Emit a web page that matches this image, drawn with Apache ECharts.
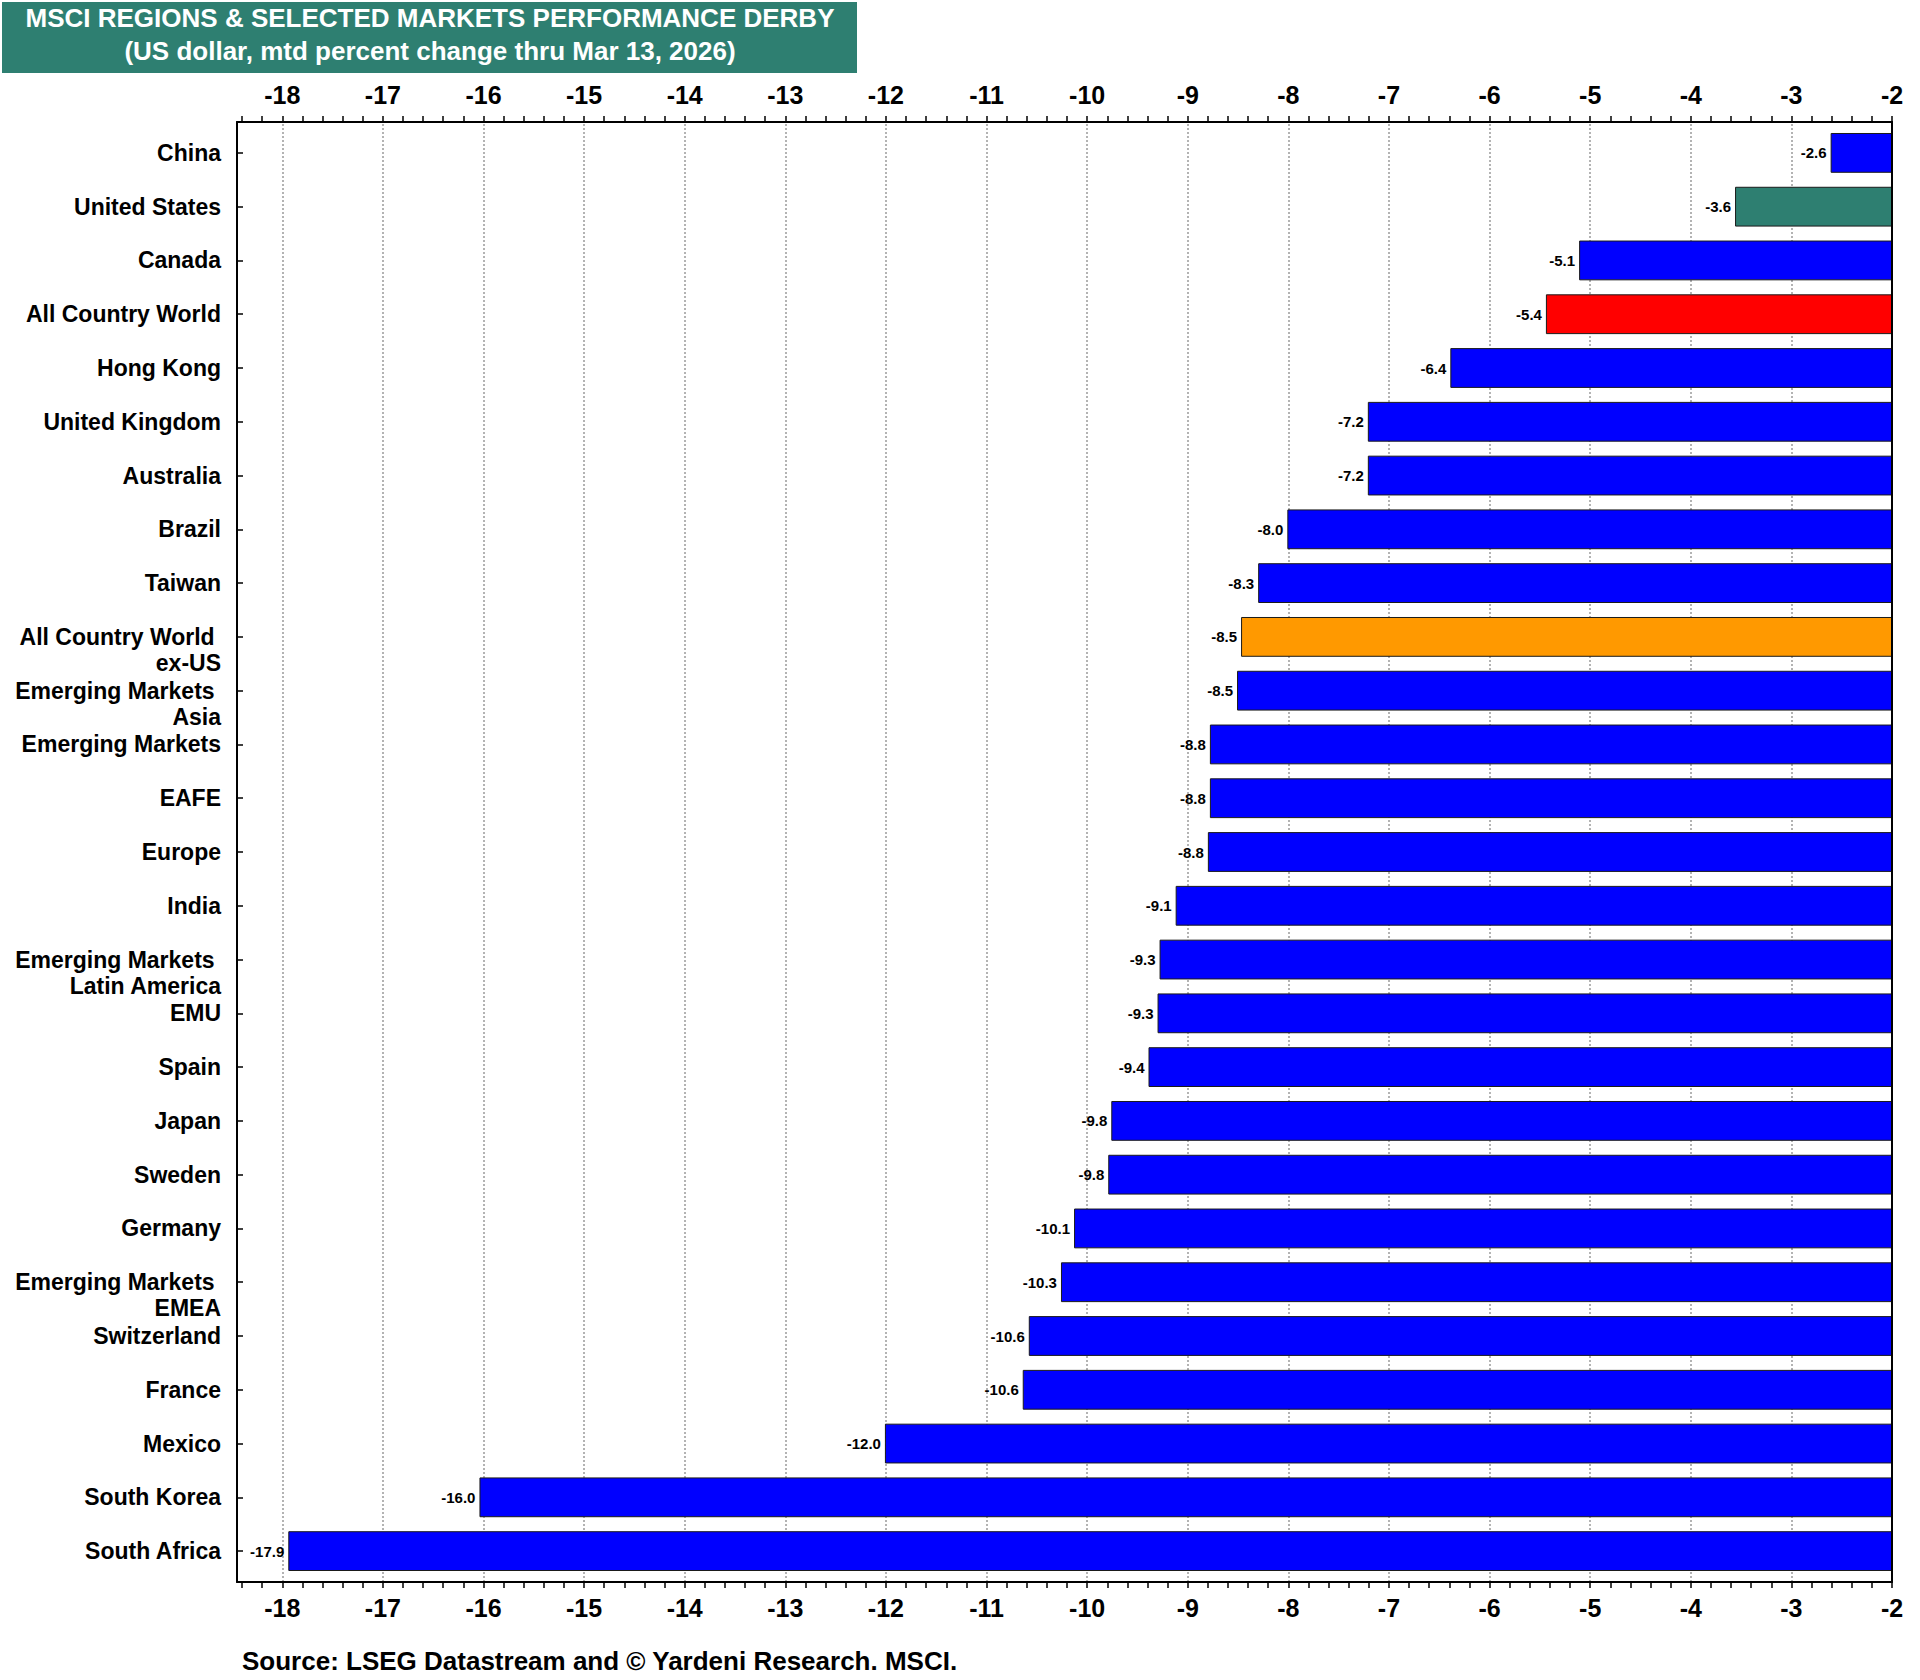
<!DOCTYPE html>
<html>
<head>
<meta charset="utf-8">
<script src="https://cdn.jsdelivr.net/npm/echarts@6/dist/echarts.min.js"></script>
<style>
  html, body { margin: 0; padding: 0; background: #ffffff; }
  #chart { width: 1920px; height: 1680px; }
</style>
</head>
<body>
<div id="chart"></div>
<script>
// ---- data ----
const categories = [
  'China', 'United States', 'Canada', 'All Country World', 'Hong Kong',
  'United Kingdom', 'Australia', 'Brazil', 'Taiwan', 'All Country World \nex-US',
  'Emerging Markets \nAsia', 'Emerging Markets', 'EAFE', 'Europe', 'India',
  'Emerging Markets \nLatin America', 'EMU', 'Spain', 'Japan', 'Sweden',
  'Germany', 'Emerging Markets \nEMEA', 'Switzerland', 'France', 'Mexico',
  'South Korea', 'South Africa'
];
const values = [
  -2.61, -3.56, -5.11, -5.44, -6.39,
  -7.21, -7.21, -8.01, -8.30, -8.47,
  -8.51, -8.78, -8.78, -8.80, -9.12,
  -9.28, -9.30, -9.39, -9.76, -9.79,
  -10.13, -10.26, -10.58, -10.64, -12.01,
  -16.04, -17.94
];
const tickLabels = [-18, -17, -16, -15, -14, -13, -12, -11, -10, -9, -8, -7, -6, -5, -4, -3, -2];
const gridLineValues = [-18, -17, -16, -15, -14, -13, -12, -11, -10, -9, -8, -7, -6, -5, -4, -3];
const minorTicks = [];
for (let i = 0; i <= 82; i++) minorTicks.push(Math.round((-18.4 + i * 0.2) * 10) / 10);

const titleLine1 = 'MSCI REGIONS & SELECTED MARKETS PERFORMANCE DERBY';
const titleLine2 = '(US dollar, mtd percent change thru Mar 13, 2026)';
const sourceText = 'Source: LSEG Datastream and \u00A9 Yardeni Research. MSCI.';

// ---- styles ----
const TEAL = '#2E7F71';
const specialColors = {
  'United States': TEAL,
  'All Country World': '#FF0000',
  'All Country World \nex-US': '#FF9900'
};
const BLUE = '#0000FF';
const FONT = '"Liberation Sans", Arial, Helvetica, sans-serif';
const X_MIN = -18.45, X_MAX = -2;

const chart = echarts.init(document.getElementById('chart'), null, { renderer: 'svg' });

function xAxisCfg(position, margin) {
  return {
    type: 'value',
    gridIndex: 0,
    position: position,
    min: X_MIN,
    max: X_MAX,
    z: 5,
    axisLine: { show: true, onZero: false, lineStyle: { color: '#000', width: 2 } },
    axisTick: { show: true, inside: false, length: 6, customValues: minorTicks, lineStyle: { color: '#000', width: 1.5 } },
    axisLabel: {
      show: true, customValues: tickLabels, margin: margin,
      color: '#000', fontFamily: FONT, fontWeight: 'bold', fontSize: 25,
      formatter: v => String(Math.round(v))
    },
    splitLine: { show: false }
  };
}

function frameYAxis(position) {
  return {
    type: 'value',
    gridIndex: 0,
    position: position,
    min: 0, max: 1,
    z: 5,
    axisLine: { show: true, onZero: false, lineStyle: { color: '#000', width: 2 } },
    axisTick: { show: false },
    axisLabel: { show: false },
    splitLine: { show: false }
  };
}

const option = {
  animation: false,
  backgroundColor: '#ffffff',
  grid: [
    { left: 237, right: 28, top: 122, bottom: 98, containLabel: false },
    { left: 237, right: 28, top: 126, bottom: 102, containLabel: false }
  ],
  xAxis: [
    xAxisCfg('bottom', 13),
    xAxisCfg('top', 15),
    {
      type: 'value', gridIndex: 1, min: X_MIN, max: X_MAX, show: false,
      splitLine: { show: false }
    }
  ],
  yAxis: [
    frameYAxis('left'),
    frameYAxis('right'),
    {
      type: 'category',
      gridIndex: 1,
      data: categories,
      inverse: true,
      position: 'left',
      z: 5,
      axisLine: { show: false },
      axisTick: { show: true, inside: true, alignWithLabel: true, length: 6, lineStyle: { color: '#000', width: 1.5 } },
      axisLabel: {
        margin: 16, color: '#000', fontFamily: FONT, fontWeight: 'bold', fontSize: 23,
        lineHeight: 26, align: 'right', interval: 0,
        formatter: v => (v.indexOf('\n') >= 0 ? '\n' + v : v)
      },
      splitLine: { show: false }
    }
  ],
  series: [
    {
      type: 'line',
      xAxisIndex: 0,
      yAxisIndex: 0,
      data: [],
      z: 1,
      silent: true,
      markLine: {
        silent: true,
        z: 1,
        symbol: ['none', 'none'],
        label: { show: false },
        lineStyle: { color: '#9a9a9a', width: 1.5, type: [2, 2] },
        data: gridLineValues.map(v => ({ xAxis: v }))
      }
    },
    {
      type: 'bar',
      xAxisIndex: 2,
      yAxisIndex: 2,
      z: 2,
      clip: true,
      barCategoryGap: '26%',
      data: values.map((v, i) => ({
        value: v,
        itemStyle: { color: specialColors[categories[i]] || BLUE }
      })),
      itemStyle: { borderColor: '#1a1a1a', borderWidth: 1 },
      label: {
        show: true, position: 'left', distance: 4,
        color: '#000', fontFamily: FONT, fontWeight: 'bold', fontSize: 15,
        formatter: p => p.value.toFixed(1)
      }
    }
  ],
  graphic: [
    {
      type: 'rect',
      left: 2, top: 2,
      shape: { x: 0, y: 0, width: 855, height: 71 },
      style: { fill: TEAL },
      z: 10
    },
    {
      type: 'text',
      x: 430, y: 34,
      z: 11,
      style: {
        text: titleLine1 + '\n' + titleLine2,
        fill: '#ffffff', font: 'bold 26px ' + FONT, lineHeight: 33,
        align: 'center', verticalAlign: 'middle'
      }
    },
    {
      type: 'text',
      x: 242, y: 1661,
      z: 11,
      style: {
        text: sourceText,
        fill: '#000000', font: 'bold 26px ' + FONT,
        align: 'left', verticalAlign: 'middle'
      }
    }
  ]
};

chart.setOption(option);
</script>
</body>
</html>
